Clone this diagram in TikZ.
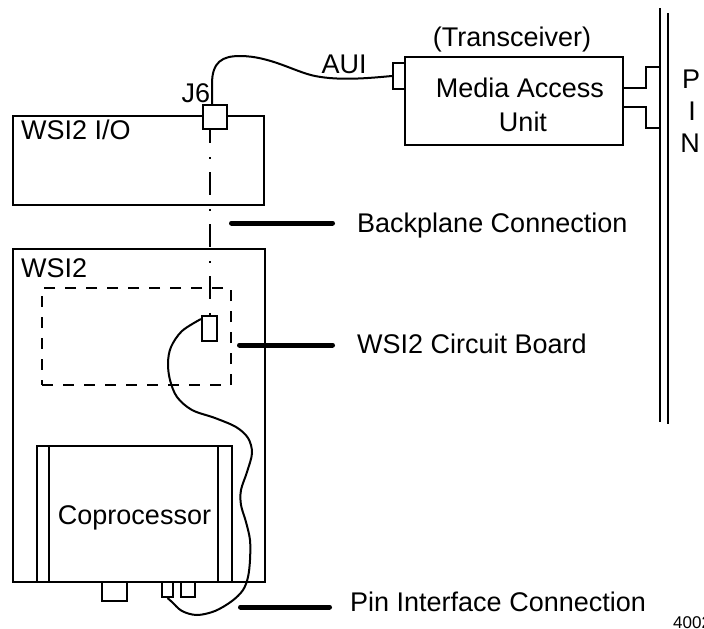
\documentclass[tikz,border=0pt]{standalone}
\usepackage{fontspec}
\setmainfont{Liberation Sans}
\begin{document}
\begin{tikzpicture}[x=1pt,y=-1pt,
  line/.style={line width=2pt},
  box/.style={draw, line width=2pt, rectangle, inner sep=0pt, fill=white},
  txt/.style={font=\fontsize{27}{32}\selectfont, inner sep=0pt, text height=19.3pt, text depth=0pt},
  lead/.style={line width=5pt, line cap=round},
  cable/.style={line width=2pt},
  dashdot/.style={line width=2pt, dash pattern=on 23pt off 14pt on 2pt off 13pt, dash phase=10pt},
  ]
\useasboundingbox (0,0) rectangle (704,629);

% WSI2 I/O module
\node[box, minimum width=251pt, minimum height=89pt] (io) at (138.5,160.5) {};
\node[box, minimum width=24pt, minimum height=24pt] (j6) at (215,117) {};

% bottom pins
\node[box, minimum width=25pt, minimum height=19pt] (pl) at (114.5,591.5) {};
\node[box, minimum width=11pt, minimum height=15pt] (pm1) at (167.5,589.5) {};
\node[box, minimum width=14pt, minimum height=15pt] (pm2) at (188,589.5) {};

% WSI2 module
\node[box, minimum width=252pt, minimum height=333pt] (wsi) at (139,415.5) {};
\node[draw, line width=2pt, rectangle, inner sep=0pt, dash pattern=on 11pt off 10pt,
      minimum width=189pt, minimum height=97pt] (board) at (136.5,336.5) {};
\node[box, minimum width=15pt, minimum height=25pt] (bconn) at (209.5,328.5) {};

% Coprocessor
\node[box, minimum width=195pt, minimum height=136pt] (cop) at (134.5,514) {};
\draw[line] ([xshift=13pt]cop.north west) -- ([xshift=13pt]cop.south west);
\draw[line] ([xshift=-15pt]cop.north east) -- ([xshift=-15pt]cop.south east);
\node[txt] (tCop) at (134.5,514.5) {Coprocessor};

% backplane dash-dot line
\draw[dashdot] (bconn.north |- j6.south) -- (bconn.north);

% board cable to pin connector
\coordinate (cs) at ([yshift=-4pt]bconn.north west);
\draw[cable] plot[smooth, tension=0.55] coordinates {(cs) (182,331) (171,347) (168,363) (170,380)
  (177,397) (192,410) (215,418) (236,427) (248,438) (252,453) (247,472) (241,490) (241,505)
  (246,522) (250,540) (250,560) (248,577) (243,590) (232,601) (215,611) (197,615) (182,611)
  (172,602) (pm1.south)};

% Media Access Unit
\node[box, minimum width=218pt, minimum height=88pt] (mau) at (514,101) {};
\node[box, minimum width=12pt, minimum height=26pt] (maucon) at (399,76) {};

% AUI cable
\coordinate (ac) at ([xshift=-3pt]j6.north);
\draw[cable] (ac) -- ++(0,-20) .. controls (212,62) and (222,56) .. (240,56)
  .. controls (270,56) and (295,72) .. (315,76)
  .. controls (340,81) and (370,78) .. (maucon.west);

% PIN bus
\coordinate (bl1) at (660,8);
\coordinate (bl2) at (660,422);
\coordinate (br1) at (668,13);
\coordinate (br2) at (668,424);
\draw[line] (bl1) -- (bl2);
\draw[line] (br1) -- (br2);
\coordinate (tap1) at (660,67);
\coordinate (tap2) at (660,128);
\draw[line] ([yshift=13pt]mau.east) -- ++(22,0) |- (tap1);
\draw[line] ([yshift=-6pt]mau.east) -- ++(22,0) |- (tap2);

% texts
\node[txt] (tTrans) at (512,37) {(Transceiver)};
\node[txt] (tMedia) at (520,88) {Media Access};
\node[txt] (tUnit) at (523,122) {Unit};
\node[txt] (tP) at (691,79) {P};
\node[txt] (tI) at (692,111) {I};
\node[txt] (tN) at (690,143) {N};
\node[txt] (tJ6) at (196,93) {J6};
\node[txt] (tAUI) at (344,63.5) {AUI};
\node[txt, anchor=west] (tIO) at (21,129.5) {WSI2 I/O};
\node[txt, anchor=west] (tWSI) at (21,267.5) {WSI2};

% callouts
\node[txt, anchor=west] (lbBack) at (357,222.5) {Backplane Connection};
\coordinate (ldBackA) at (231.5,223);
\coordinate (ldBackB) at (332.5,223);
\draw[lead] (ldBackA) -- (ldBackB);

\node[txt, anchor=west] (lbBoard) at (357,344) {WSI2 Circuit Board};
\coordinate (ldBoardA) at (239.5,345);
\coordinate (ldBoardB) at (332.5,345);
\draw[lead] (ldBoardA) -- (ldBoardB);

\node[txt, anchor=west] (lbPin) at (350,602) {Pin Interface Connection};
\coordinate (ldPinA) at (240.5,607);
\coordinate (ldPinB) at (329.5,607);
\draw[lead] (ldPinA) -- (ldPinB);

\node[font=\fontsize{17}{20}\selectfont, inner sep=0pt, text height=12pt, text depth=0pt, anchor=west] (tNum) at (673,622) {4002};
\end{tikzpicture}
\end{document}
